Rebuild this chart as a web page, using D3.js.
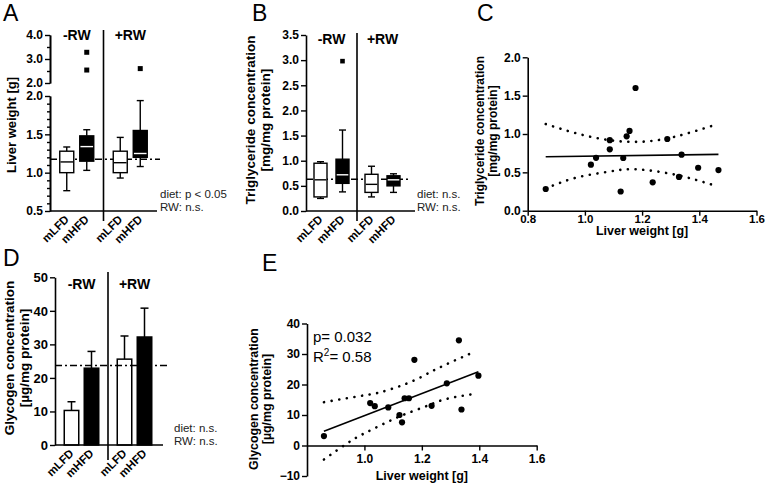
<!DOCTYPE html>
<html><head><meta charset="utf-8">
<script src="https://cdn.jsdelivr.net/npm/d3@7"></script>
<style>body{margin:0;background:#fff}</style>
</head><body><svg id="c" width="766" height="483"></svg>
<script>
// ================= DATA =================
const groups = ["-RW", "+RW"];
const diets = ["mLFD", "mHFD"];
const boxCats = [["-RW","mLFD"],["-RW","mHFD"],["+RW","mLFD"],["+RW","mHFD"]];

// Panel A: liver weight [g] (box plots)
const liverMin = [0.765, 1.03, 0.93, 1.08];
const liverQ1  = [1.00, 1.15, 1.00, 1.20];
const liverMed = [1.14, 1.34, 1.13, 1.25];
const liverQ3  = [1.28, 1.48, 1.28, 1.55];
const liverMax = [1.335, 1.56, 1.46, 1.94];
const liverOutCat = [1, 1, 3];
const liverOutVal = [3.28, 2.54, 2.60];
const liverRef = 1.175;
const liverTicksLow = [0.5, 1.0, 1.5, 2.0];
const liverMinorLow = [0.6,0.7,0.8,0.9,1.1,1.2,1.3,1.4,1.6,1.7,1.8,1.9];
const liverTicksUp = [2.0, 3.0, 4.0];
const liverMinorUp = [2.5, 3.5];
const liverStats = ["diet: p < 0.05", "RW: n.s."];

// Panel B: triglyceride concentration [mg/mg protein]
const tgMin = [0.25, 0.38, 0.28, 0.37];
const tgQ1  = [0.28, 0.55, 0.37, 0.50];
const tgMed = [0.62, 0.72, 0.53, 0.62];
const tgQ3  = [0.95, 1.03, 0.73, 0.70];
const tgMax = [0.98, 1.61, 0.89, 0.74];
const tgOutCat = [1];
const tgOutVal = [2.98];
const tgRef = 0.63;
const tgTicks = [0, 0.5, 1.0, 1.5, 2.0, 2.5, 3.0, 3.5];
const tgStats = ["diet: n.s.", "RW: n.s."];

// Panel C: liver weight vs triglyceride
const cLiver = [0.863,1.021,1.039,1.087,1.087,1.125,1.134,1.146,1.156,1.177,1.237,1.288,1.329,1.338,1.396,1.467];
const cTg    = [0.283,0.60,0.69,0.80,0.92,0.25,0.687,0.97,1.04,1.60,0.37,0.935,0.44,0.73,0.56,0.53];
const cFitX = [0.863, 1.467];
const cFitY = [0.704, 0.735];
const cUpX = [0.863, 0.969, 1.085, 1.20, 1.315, 1.448];
const cUpY = [1.13, 1.01, 0.92, 0.90, 0.965, 1.11];
const cLoX = [0.863, 0.969, 1.085, 1.177, 1.315, 1.448];
const cLoY = [0.29, 0.43, 0.51, 0.54, 0.47, 0.335];
const cXTicks = [0.8, 1.0, 1.2, 1.4, 1.6];
const cYTicks = [0, 0.5, 1.0, 1.5, 2.0];

// Panel D: glycogen concentration [µg/mg protein] (bars, mean + SEM)
const glyMean = [10.3, 22.9, 25.6, 32.2];
const glyErrTop = [12.9, 27.9, 32.5, 40.8];
const glyRef = 23.7;
const glyTicks = [0, 10, 20, 30, 40, 50];
const glyStats = ["diet: n.s.", "RW: n.s."];

// Panel E: liver weight vs glycogen
const eLiver = [0.859,1.020,1.036,1.083,1.122,1.131,1.140,1.155,1.174,1.234,1.287,1.329,1.338,1.397];
const eGly   = [3.1,13.9,12.9,12.5,10.0,7.6,15.5,15.5,28.1,13.0,20.4,34.5,11.8,22.9];
const eFitX = [0.859, 1.397];
const eFitY = [4.7, 24.2];
const eUpX = [0.859, 0.996, 1.054, 1.112, 1.170, 1.229, 1.287, 1.383];
const eUpY = [14.2, 16.4, 17.4, 19.1, 21.2, 24.0, 26.7, 30.7];
const eLoX = [0.859, 0.938, 0.996, 1.054, 1.112, 1.170, 1.229, 1.287, 1.383];
const eLoY = [-4.6, 0.6, 3.8, 6.5, 9.1, 11.3, 13.4, 15.3, 16.9];
const eXTicks = [1.0, 1.2, 1.4, 1.6];
const eYTicks = [-10, 0, 10, 20, 30, 40];
const eStats = ["p= 0.032", "0.58"];

// ================= DRAWING =================
const svg = d3.select("#c");
const FONT = '"Liberation Sans", Arial, Helvetica, sans-serif';

function label(x, y, t, o = {}) {
  const el = svg.append("text").attr("x", x).attr("y", y)
    .attr("font-family", FONT).attr("font-size", o.size || 12)
    .attr("font-weight", o.weight || "normal")
    .attr("text-anchor", o.anchor || "start")
    .attr("fill", o.fill || "#000").text(t);
  if (o.rotate) el.attr("transform", `rotate(${o.rotate},${x},${y})`);
  return el;
}
function styleAxis(g, fs) {
  g.select(".domain").attr("stroke", "#000").attr("stroke-width", 1.6);
  g.selectAll(".tick line").attr("stroke", "#000").attr("stroke-width", 1.4);
  g.selectAll(".tick text").attr("font-family", FONT).attr("font-weight", "bold")
    .attr("font-size", fs || 12).attr("fill", "#000");
}
function hline(x1, x2, y, w, dash) {
  const l = svg.append("line").attr("x1", x1).attr("x2", x2).attr("y1", y).attr("y2", y)
    .attr("stroke", "#000").attr("stroke-width", w || 1.6);
  if (dash) l.attr("stroke-dasharray", dash);
  return l;
}
function vline(x, y1, y2, w) {
  return svg.append("line").attr("x1", x).attr("x2", x).attr("y1", y1).attr("y2", y2)
    .attr("stroke", "#000").attr("stroke-width", w || 1.6);
}
function catPos(x0, x1, half) {
  const outer = d3.scaleBand().domain(groups).range([x0, x1]);
  const inner = d3.scalePoint().domain(diets).range([-half, half]);
  return {
    outer,
    pos: i => outer(boxCats[i][0]) + outer.bandwidth() / 2 + inner(boxCats[i][1]),
    mid: gname => outer(gname) + outer.bandwidth() / 2,
    divider: outer(groups[1])
  };
}
function drawBoxes(cp, y, mn, q1, md, q3, mx, bw) {
  const g = svg.append("g");
  boxCats.forEach((c, i) => {
    const cx = cp.pos(i), filled = c[1] === "mHFD";
    g.append("line").attr("x1", cx).attr("x2", cx).attr("y1", y(mx[i])).attr("y2", y(q3[i])).attr("stroke", "#000").attr("stroke-width", 1.4);
    g.append("line").attr("x1", cx).attr("x2", cx).attr("y1", y(q1[i])).attr("y2", y(mn[i])).attr("stroke", "#000").attr("stroke-width", 1.4);
    [mx[i], mn[i]].forEach(v => g.append("line").attr("x1", cx - 3.5).attr("x2", cx + 3.5).attr("y1", y(v)).attr("y2", y(v)).attr("stroke", "#000").attr("stroke-width", 1.4));
    g.append("rect").attr("x", cx - bw / 2).attr("width", bw).attr("y", y(q3[i])).attr("height", y(q1[i]) - y(q3[i]))
      .attr("fill", filled ? "#000" : "#fff").attr("stroke", "#000").attr("stroke-width", 1.4);
    g.append("line").attr("x1", cx - bw / 2 + 0.7).attr("x2", cx + bw / 2 - 0.7).attr("y1", y(md[i])).attr("y2", y(md[i]))
      .attr("stroke", filled ? "#fff" : "#000").attr("stroke-width", 1.4);
  });
}
function catLabels(cp, axisY) {
  boxCats.forEach((c, i) => {
    const x = cp.pos(i) + 3, y = axisY + 9;
    label(x, y, c[1], { size: 11.5, weight: "bold", anchor: "end", rotate: -45 });
  });
}
function groupLabels(cp, y) {
  groups.forEach(gname => label(cp.mid(gname), y, gname, { size: 14, weight: "bold", anchor: "middle" }));
}
function statsText(x, axisY, lines) {
  label(x, axisY - 13.5, lines[0], { size: 11.5, fill: "#222" });
  label(x, axisY - 0.5, lines[1], { size: 11.5, fill: "#222" });
}
const DASHDOT = "7,3,2,3";

// ---------- Panel A ----------
{
  const axX = 50, axEnd = 157;
  const yLow = d3.scaleLinear().domain([0.5, 2.0]).range([211, 96]);
  const yUp = d3.scaleLinear().domain([2.0, 4.0]).range([83, 35]);
  const yA = v => v > 2.0 ? yUp(v) : yLow(v);
  const cp = catPos(axX, axEnd, 10);
  let g = svg.append("g").attr("transform", `translate(${axX},0)`)
    .call(d3.axisLeft(yLow).tickValues(liverTicksLow).tickSize(5).tickSizeOuter(0).tickPadding(2).tickFormat(d3.format(".1f")));
  styleAxis(g, 12);
  g = svg.append("g").attr("transform", `translate(${axX},0)`)
    .call(d3.axisLeft(yLow).tickValues(liverMinorLow).tickSize(3).tickSizeOuter(0).tickFormat(""));
  styleAxis(g);
  g = svg.append("g").attr("transform", `translate(${axX},0)`)
    .call(d3.axisLeft(yUp).tickValues(liverTicksUp).tickSize(5).tickSizeOuter(0).tickPadding(2).tickFormat(d3.format(".1f")));
  styleAxis(g, 12);
  g = svg.append("g").attr("transform", `translate(${axX},0)`)
    .call(d3.axisLeft(yUp).tickValues(liverMinorUp).tickSize(3).tickSizeOuter(0).tickFormat(""));
  styleAxis(g);
  hline(axX, axEnd, yLow(0.5));
  vline(cp.divider, 30, 221);
  hline(axX, axEnd + 3, yLow(liverRef), 1.4, DASHDOT);
  drawBoxes(cp, yA, liverMin, liverQ1, liverMed, liverQ3, liverMax, 14);
  svg.append("g").selectAll("rect").data(liverOutVal).join("rect")
    .attr("x", (d, i) => cp.pos(liverOutCat[i]) - 2.5).attr("y", d => yA(d) - 2.5)
    .attr("width", 5).attr("height", 5).attr("fill", "#000");
  catLabels(cp, yLow(0.5));
  groupLabels(cp, 40);
  statsText(160, yLow(0.5), liverStats);
  label(16, 125, "Liver weight [g]", { size: 13, weight: "bold", anchor: "middle", rotate: -90 });
  label(3, 21, "A", { size: 23 });
}

// ---------- Panel B ----------
{
  const axX = 306, axEnd = 415;
  const y = d3.scaleLinear().domain([0, 3.5]).range([211, 35]);
  const cp = catPos(axX, 408, 11);
  const g = svg.append("g").attr("transform", `translate(${axX},0)`)
    .call(d3.axisLeft(y).tickValues(tgTicks).tickSize(5).tickSizeOuter(0).tickPadding(2).tickFormat(d3.format(".1f")));
  styleAxis(g, 12);
  hline(axX, axEnd, y(0));
  vline(cp.divider, 33, 221);
  hline(axX, 410, y(tgRef), 1.4, DASHDOT);
  drawBoxes(cp, y, tgMin, tgQ1, tgMed, tgQ3, tgMax, 13);
  svg.append("g").selectAll("rect").data(tgOutVal).join("rect")
    .attr("x", (d, i) => cp.pos(tgOutCat[i]) - 2.3).attr("y", d => y(d) - 2.3)
    .attr("width", 4.6).attr("height", 4.6).attr("fill", "#000");
  catLabels(cp, y(0));
  groupLabels(cp, 44);
  statsText(417, y(0), tgStats);
  label(255, 120, "Triglyceride concentration", { size: 13.5, weight: "bold", anchor: "middle", rotate: -90 });
  label(270, 120, "[mg/mg protein]", { size: 13.5, weight: "bold", anchor: "middle", rotate: -90 });
  label(252, 21, "B", { size: 23 });
}

// ---------- Panel C ----------
function dotted(pathX, pathY, x, y) {
  const line = d3.line().x(d => x(d[0])).y(d => y(d[1])).curve(d3.curveNatural);
  svg.append("path").attr("d", line(d3.zip(pathX, pathY))).attr("fill", "none")
    .attr("stroke", "#000").attr("stroke-width", 2.6).attr("stroke-linecap", "round")
    .attr("stroke-dasharray", "0.1,7.6");
}
{
  const x = d3.scaleLinear().domain([0.8, 1.6]).range([527.7, 756.5]);
  const y = d3.scaleLinear().domain([0, 2]).range([210.7, 57.3]);
  let g = svg.append("g").attr("transform", `translate(${x(0.8)},0)`)
    .call(d3.axisLeft(y).tickValues(cYTicks).tickSize(5).tickSizeOuter(0).tickPadding(2).tickFormat(d3.format(".1f")));
  styleAxis(g, 12);
  g = svg.append("g").attr("transform", `translate(0,${y(0)})`)
    .call(d3.axisBottom(x).tickValues(cXTicks).tickSize(5).tickSizeOuter(0).tickPadding(-1).tickFormat(d3.format(".1f")));
  styleAxis(g, 11.5);
  dotted(cUpX, cUpY, x, y);
  dotted(cLoX, cLoY, x, y);
  svg.append("line").attr("x1", x(cFitX[0])).attr("x2", x(cFitX[1])).attr("y1", y(cFitY[0])).attr("y2", y(cFitY[1]))
    .attr("stroke", "#000").attr("stroke-width", 1.6);
  svg.append("g").selectAll("circle").data(d3.zip(cLiver, cTg)).join("circle")
    .attr("cx", d => x(d[0])).attr("cy", d => y(d[1])).attr("r", 3.1).attr("fill", "#000");
  label(x(1.2), 235, "Liver weight [g]", { size: 12.5, weight: "bold", anchor: "middle" });
  label(484, 131, "Triglyceride concentration", { size: 12, weight: "bold", anchor: "middle", rotate: -90 });
  label(497, 131, "[mg/mg protein]", { size: 12, weight: "bold", anchor: "middle", rotate: -90 });
  label(477, 21, "C", { size: 23 });
}

// ---------- Panel D ----------
{
  const axX = 55, axEnd = 163;
  const y = d3.scaleLinear().domain([0, 50]).range([445, 277.3]);
  const cp = catPos(axX, 161, 10);
  const g = svg.append("g").attr("transform", `translate(${axX},0)`)
    .call(d3.axisLeft(y).tickValues(glyTicks).tickSize(5).tickSizeOuter(0).tickPadding(2));
  styleAxis(g, 13);
  const bw = 14.5;
  const bars = svg.append("g");
  boxCats.forEach((c, i) => {
    const cx = cp.pos(i);
    bars.append("line").attr("x1", cx).attr("x2", cx).attr("y1", y(glyMean[i])).attr("y2", y(glyErrTop[i])).attr("stroke", "#000").attr("stroke-width", 1.5);
    bars.append("line").attr("x1", cx - 4).attr("x2", cx + 4).attr("y1", y(glyErrTop[i])).attr("y2", y(glyErrTop[i])).attr("stroke", "#000").attr("stroke-width", 1.5);
    bars.append("rect").attr("x", cx - bw / 2).attr("width", bw).attr("y", y(glyMean[i])).attr("height", y(0) - y(glyMean[i]))
      .attr("fill", c[1] === "mHFD" ? "#000" : "#fff").attr("stroke", "#000").attr("stroke-width", 1.5);
  });
  hline(axX, axEnd, y(0));
  vline(cp.divider, 272, 460);
  hline(axX, 168, y(glyRef), 1.4, DASHDOT);
  catLabels(cp, y(0));
  groupLabels(cp, 289);
  statsText(174, y(0), glyStats);
  label(14, 358, "Glycogen concentration", { size: 13.5, weight: "bold", anchor: "middle", rotate: -90 });
  label(29, 358, "[µg/mg protein]", { size: 13.5, weight: "bold", anchor: "middle", rotate: -90 });
  label(3, 266, "D", { size: 23 });
}

// ---------- Panel E ----------
{
  const x = d3.scaleLinear().domain([0.8, 1.6]).range([307, 536.7]);
  const y = d3.scaleLinear().domain([-10, 40]).range([476, 323.5]);
  let g = svg.append("g").attr("transform", `translate(${x(0.8)},0)`)
    .call(d3.axisLeft(y).tickValues(eYTicks).tickSize(5).tickSizeOuter(0).tickPadding(2));
  styleAxis(g, 12);
  g = svg.append("g").attr("transform", `translate(0,${y(0)})`)
    .call(d3.axisBottom(x).tickValues(eXTicks).tickSize(5).tickSizeOuter(0).tickPadding(4).tickFormat(d3.format(".1f")));
  styleAxis(g, 12);
  dotted(eUpX, eUpY, x, y);
  dotted(eLoX, eLoY, x, y);
  svg.append("line").attr("x1", x(eFitX[0])).attr("x2", x(eFitX[1])).attr("y1", y(eFitY[0])).attr("y2", y(eFitY[1]))
    .attr("stroke", "#000").attr("stroke-width", 1.6);
  svg.append("g").selectAll("circle").data(d3.zip(eLiver, eGly)).join("circle")
    .attr("cx", d => x(d[0])).attr("cy", d => y(d[1])).attr("r", 3.1).attr("fill", "#000");
  label(313, 342, eStats[0], { size: 15 });
  const r = label(313, 362, "R", { size: 15 });
  r.append("tspan").attr("font-size", 10).attr("dy", -6).text("2");
  r.append("tspan").attr("dy", 6).text("= " + eStats[1]);
  label(x(1.2), 480, "Liver weight [g]", { size: 12.5, weight: "bold", anchor: "middle" });
  label(258, 399, "Glycogen concentration", { size: 12.4, weight: "bold", anchor: "middle", rotate: -90 });
  label(271, 399, "[µg/mg protein]", { size: 12.4, weight: "bold", anchor: "middle", rotate: -90 });
  label(262, 271, "E", { size: 23 });
}
</script>
</body></html>
